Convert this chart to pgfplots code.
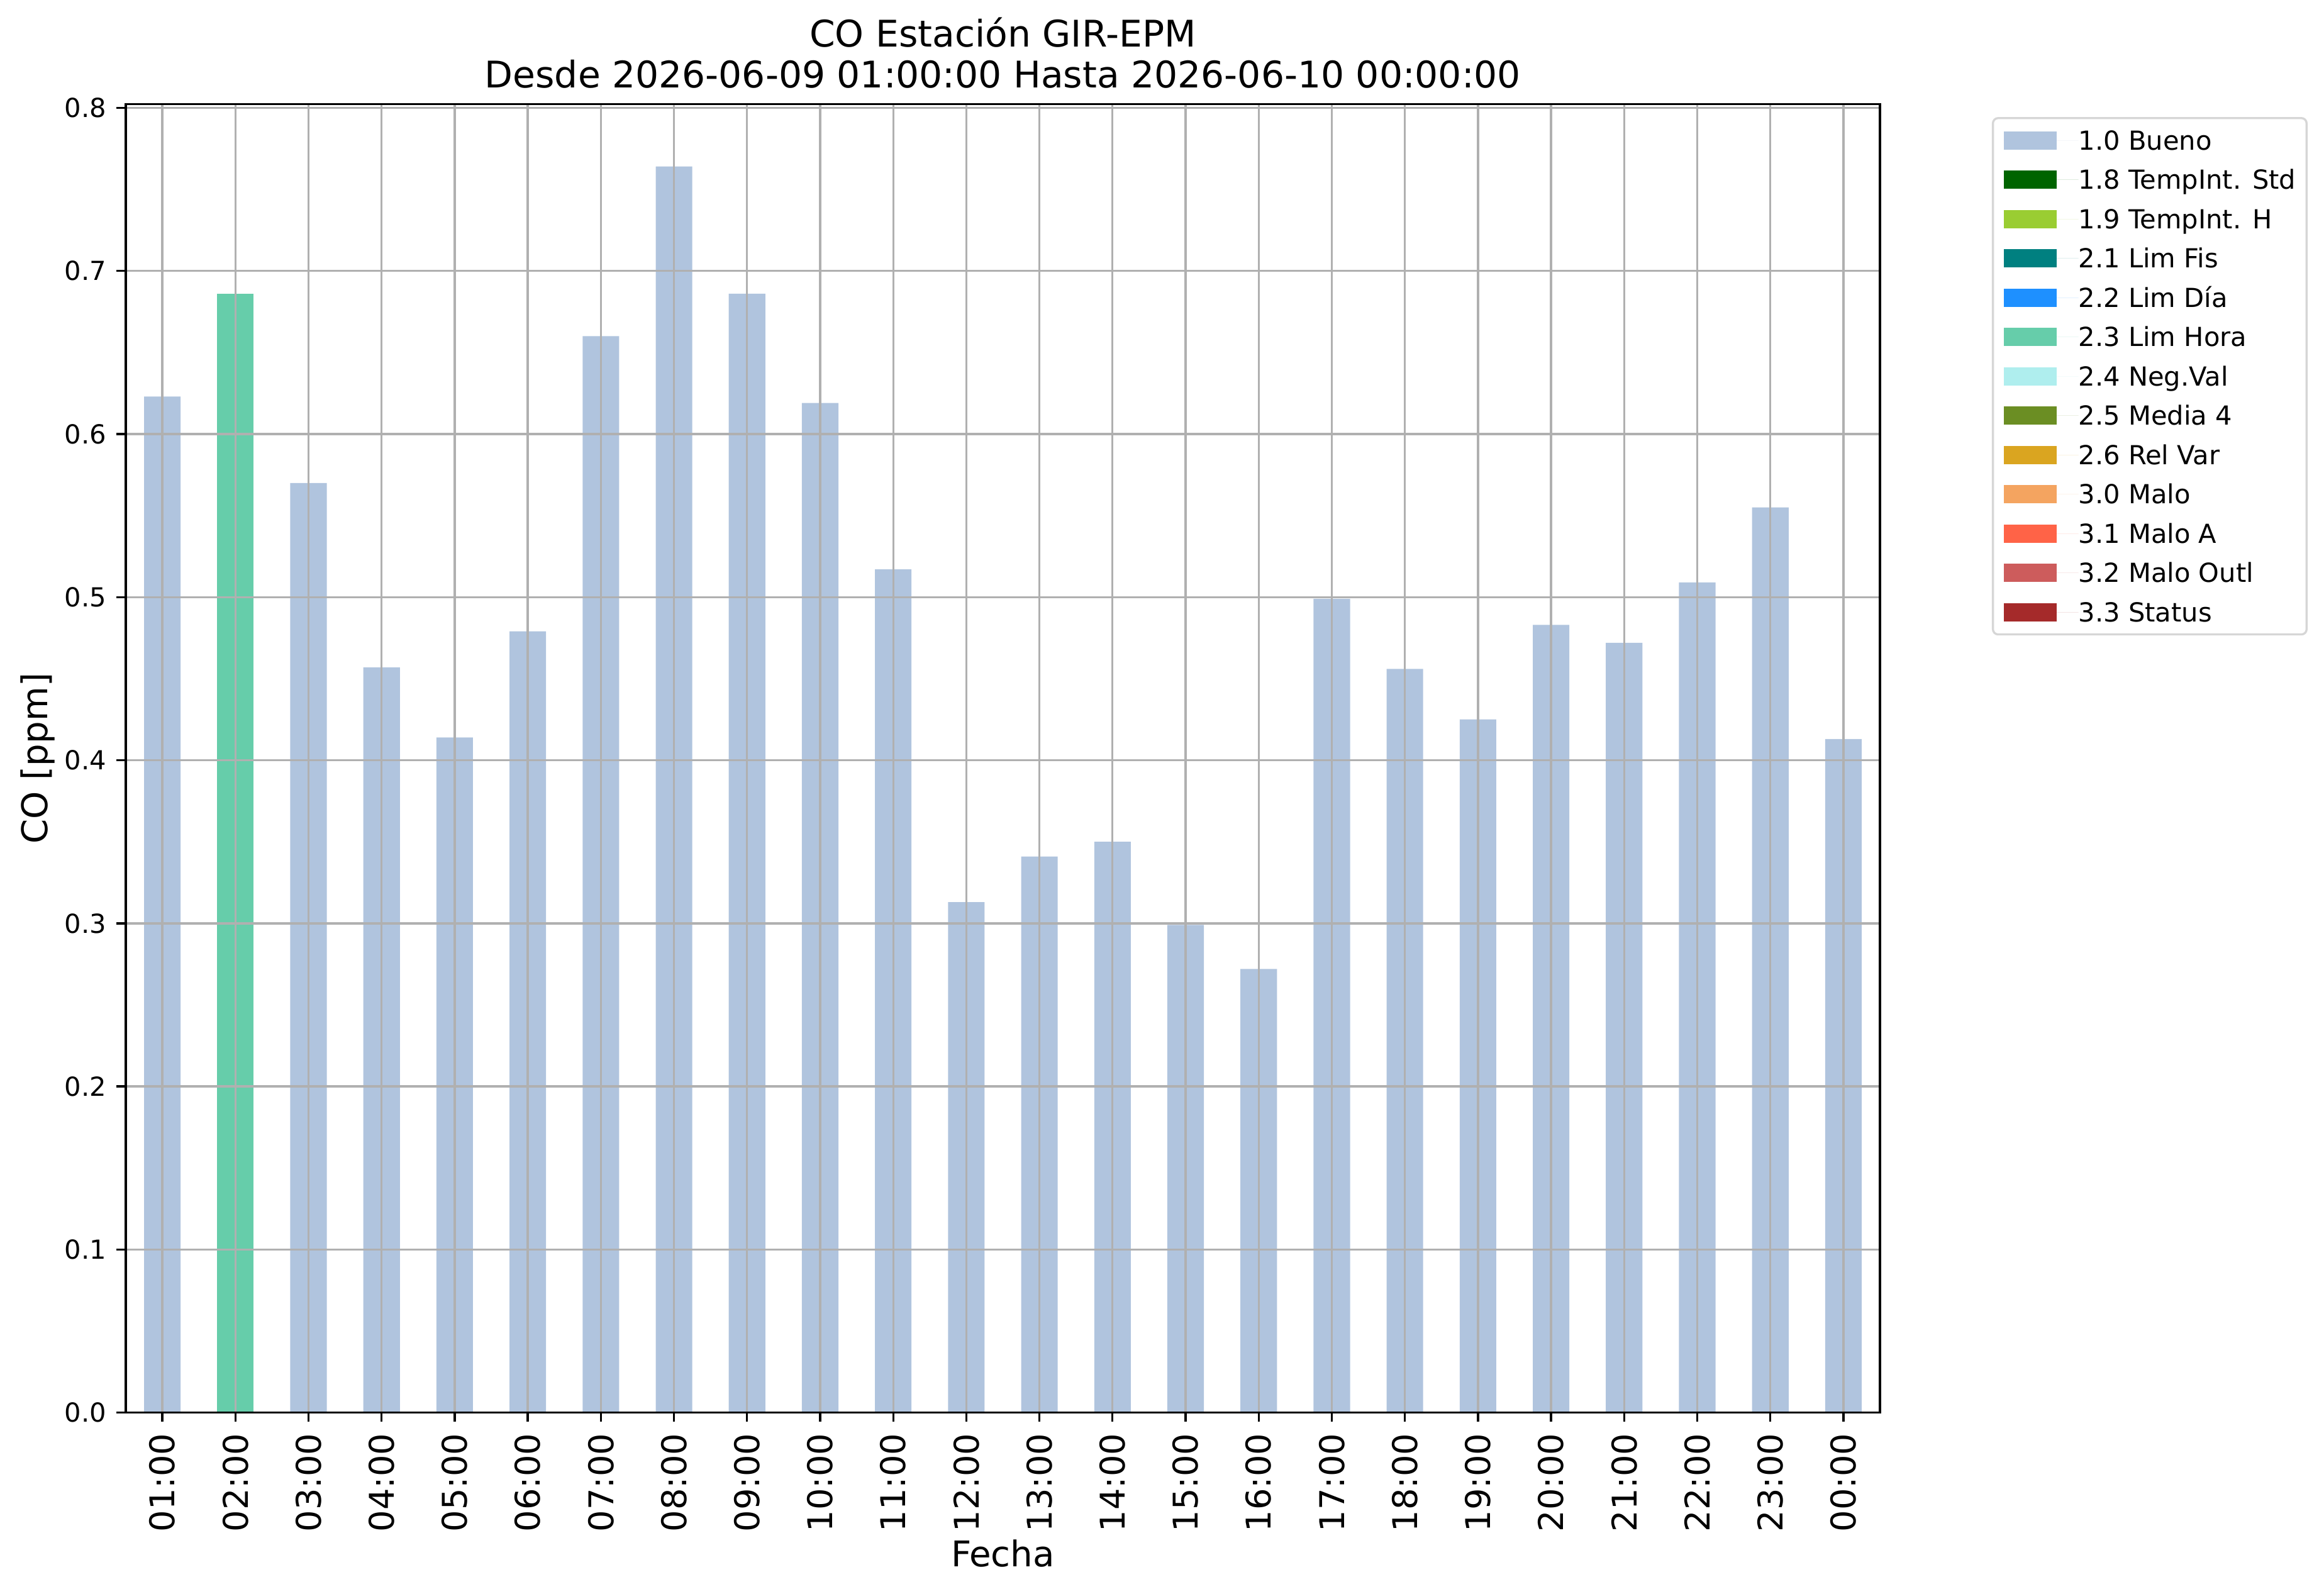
\documentclass[border=0pt]{standalone}
\usepackage{fontspec}
\setmainfont{DejaVu Sans}
\usepackage{pgfplots}
\pgfplotsset{compat=1.18}
\definecolor{c10}{HTML}{B0C4DE}
\definecolor{c18}{HTML}{006400}
\definecolor{c19}{HTML}{9ACD32}
\definecolor{c21}{HTML}{008080}
\definecolor{c22}{HTML}{1E90FF}
\definecolor{c23}{HTML}{66CDAA}
\definecolor{c24}{HTML}{AFEEEE}
\definecolor{c25}{HTML}{6B8E23}
\definecolor{c26}{HTML}{DAA520}
\definecolor{c30}{HTML}{F4A460}
\definecolor{c31}{HTML}{FF6347}
\definecolor{c32}{HTML}{CD5C5C}
\definecolor{c33}{HTML}{A52A2A}
\definecolor{gridgray}{HTML}{B0B0B0}
\definecolor{legendgray}{HTML}{D6D6D6}
\pgfplotsset{
  patchlegend/.style={legend image code/.code={%
    \fill[sharp corners,##1] (0bp,-3.44bp) rectangle (20.16bp,3.44bp);
    \path (0bp,0bp) -- (28.56bp,0bp);}},
  mybar/.style={ybar, bar width=0.5, bar shift=0pt, draw=none, fill=#1, patchlegend},
  myimg/.style={fill=#1, draw=none, patchlegend},
}
\begin{document}
\begin{tikzpicture}
\useasboundingbox (-48bp,-69.19bp) rectangle (838.8bp,538.97bp);
\begin{axis}[
  at={(0,0)}, anchor=south west,
  scale only axis, width=669.36bp, height=499.2bp,
  xmin=-0.5, xmax=23.5, ymin=0, ymax=0.8022,
  axis on top,
  axis line style={line width=0.8bp, black},
  every tick/.style={line width=0.8bp, black},
  major tick length=3.5bp,
  tick align=outside,
  xtick pos=left, ytick pos=left,
  xtick={0,1,2,3,4,5,6,7,8,9,10,11,12,13,14,15,16,17,18,19,20,21,22,23},
  xticklabels={01:00,02:00,03:00,04:00,05:00,06:00,07:00,08:00,09:00,10:00,11:00,12:00,13:00,14:00,15:00,16:00,17:00,18:00,19:00,20:00,21:00,22:00,23:00,00:00},
  ytick={0,0.1,0.2,0.3,0.4,0.5,0.6,0.7,0.8},
  /pgf/number format/fixed,
  /pgf/number format/fixed zerofill,
  /pgf/number format/precision=1,
  /pgf/number format/assume math mode=true,
  yticklabel style={font=\fontsize{10bp}{12bp}\selectfont, inner sep=0pt, inner xsep=3.7bp},
  xticklabel style={font=\fontsize{13bp}{15bp}\selectfont, rotate=90, anchor=east, inner ysep=0pt, inner xsep=4.3bp},
  grid=major,
  major grid style={line width=0.8bp, gridgray},
  title={CO Estación GIR-EPM\\Desde 2026-06-09 01:00:00 Hasta 2026-06-10 00:00:00},
  title style={at={(axis description cs:0.5,1.01188)}, anchor=south, yshift=-6pt, inner sep=0pt, align=center, font=\fontsize{14bp}{15.6bp}\selectfont},
  xlabel={Fecha},
  xlabel style={at={(axis description cs:0.5,-0.11779)}, anchor=base, inner sep=0pt, font=\fontsize{13.5bp}{15bp}\selectfont},
  ylabel={CO [ppm]},
  ylabel style={at={(axis description cs:-0.04482,0.5)}, anchor=base, inner sep=0pt, font=\fontsize{13.5bp}{15bp}\selectfont},
  legend cell align=left,
  legend style={at={(axis description cs:1.0638,0.9902)}, anchor=north west,
    draw=legendgray, line width=0.8bp, rounded corners=2bp,
    inner xsep=4.08bp, inner ysep=1bp, row sep=0pt, column sep=0pt,
    font=\fontsize{10bp}{12bp}\selectfont,
    nodes={inner sep=0pt, text height=11.1bp, text depth=3.9bp}},
]
\addplot[mybar=c10] coordinates {
(0,0.623) (2,0.570) (3,0.457) (4,0.414) (5,0.479) (6,0.660) (7,0.764)
(8,0.686) (9,0.619) (10,0.517) (11,0.313) (12,0.341) (13,0.350) (14,0.299)
(15,0.272) (16,0.499) (17,0.456) (18,0.425) (19,0.483) (20,0.472) (21,0.509)
(22,0.555) (23,0.413)};
\addlegendentry{1.0 Bueno}
\addlegendimage{myimg=c18}\addlegendentry{1.8 TempInt. Std}
\addlegendimage{myimg=c19}\addlegendentry{1.9 TempInt. H}
\addlegendimage{myimg=c21}\addlegendentry{2.1 Lim Fis}
\addlegendimage{myimg=c22}\addlegendentry{2.2 Lim Día}
\addplot[mybar=c23] coordinates {(1,0.686)};
\addlegendentry{2.3 Lim Hora}
\addlegendimage{myimg=c24}\addlegendentry{2.4 Neg.Val}
\addlegendimage{myimg=c25}\addlegendentry{2.5 Media 4}
\addlegendimage{myimg=c26}\addlegendentry{2.6 Rel Var}
\addlegendimage{myimg=c30}\addlegendentry{3.0 Malo}
\addlegendimage{myimg=c31}\addlegendentry{3.1 Malo A}
\addlegendimage{myimg=c32}\addlegendentry{3.2 Malo Outl}
\addlegendimage{myimg=c33}\addlegendentry{3.3 Status}
\end{axis}
\end{tikzpicture}
\end{document}
